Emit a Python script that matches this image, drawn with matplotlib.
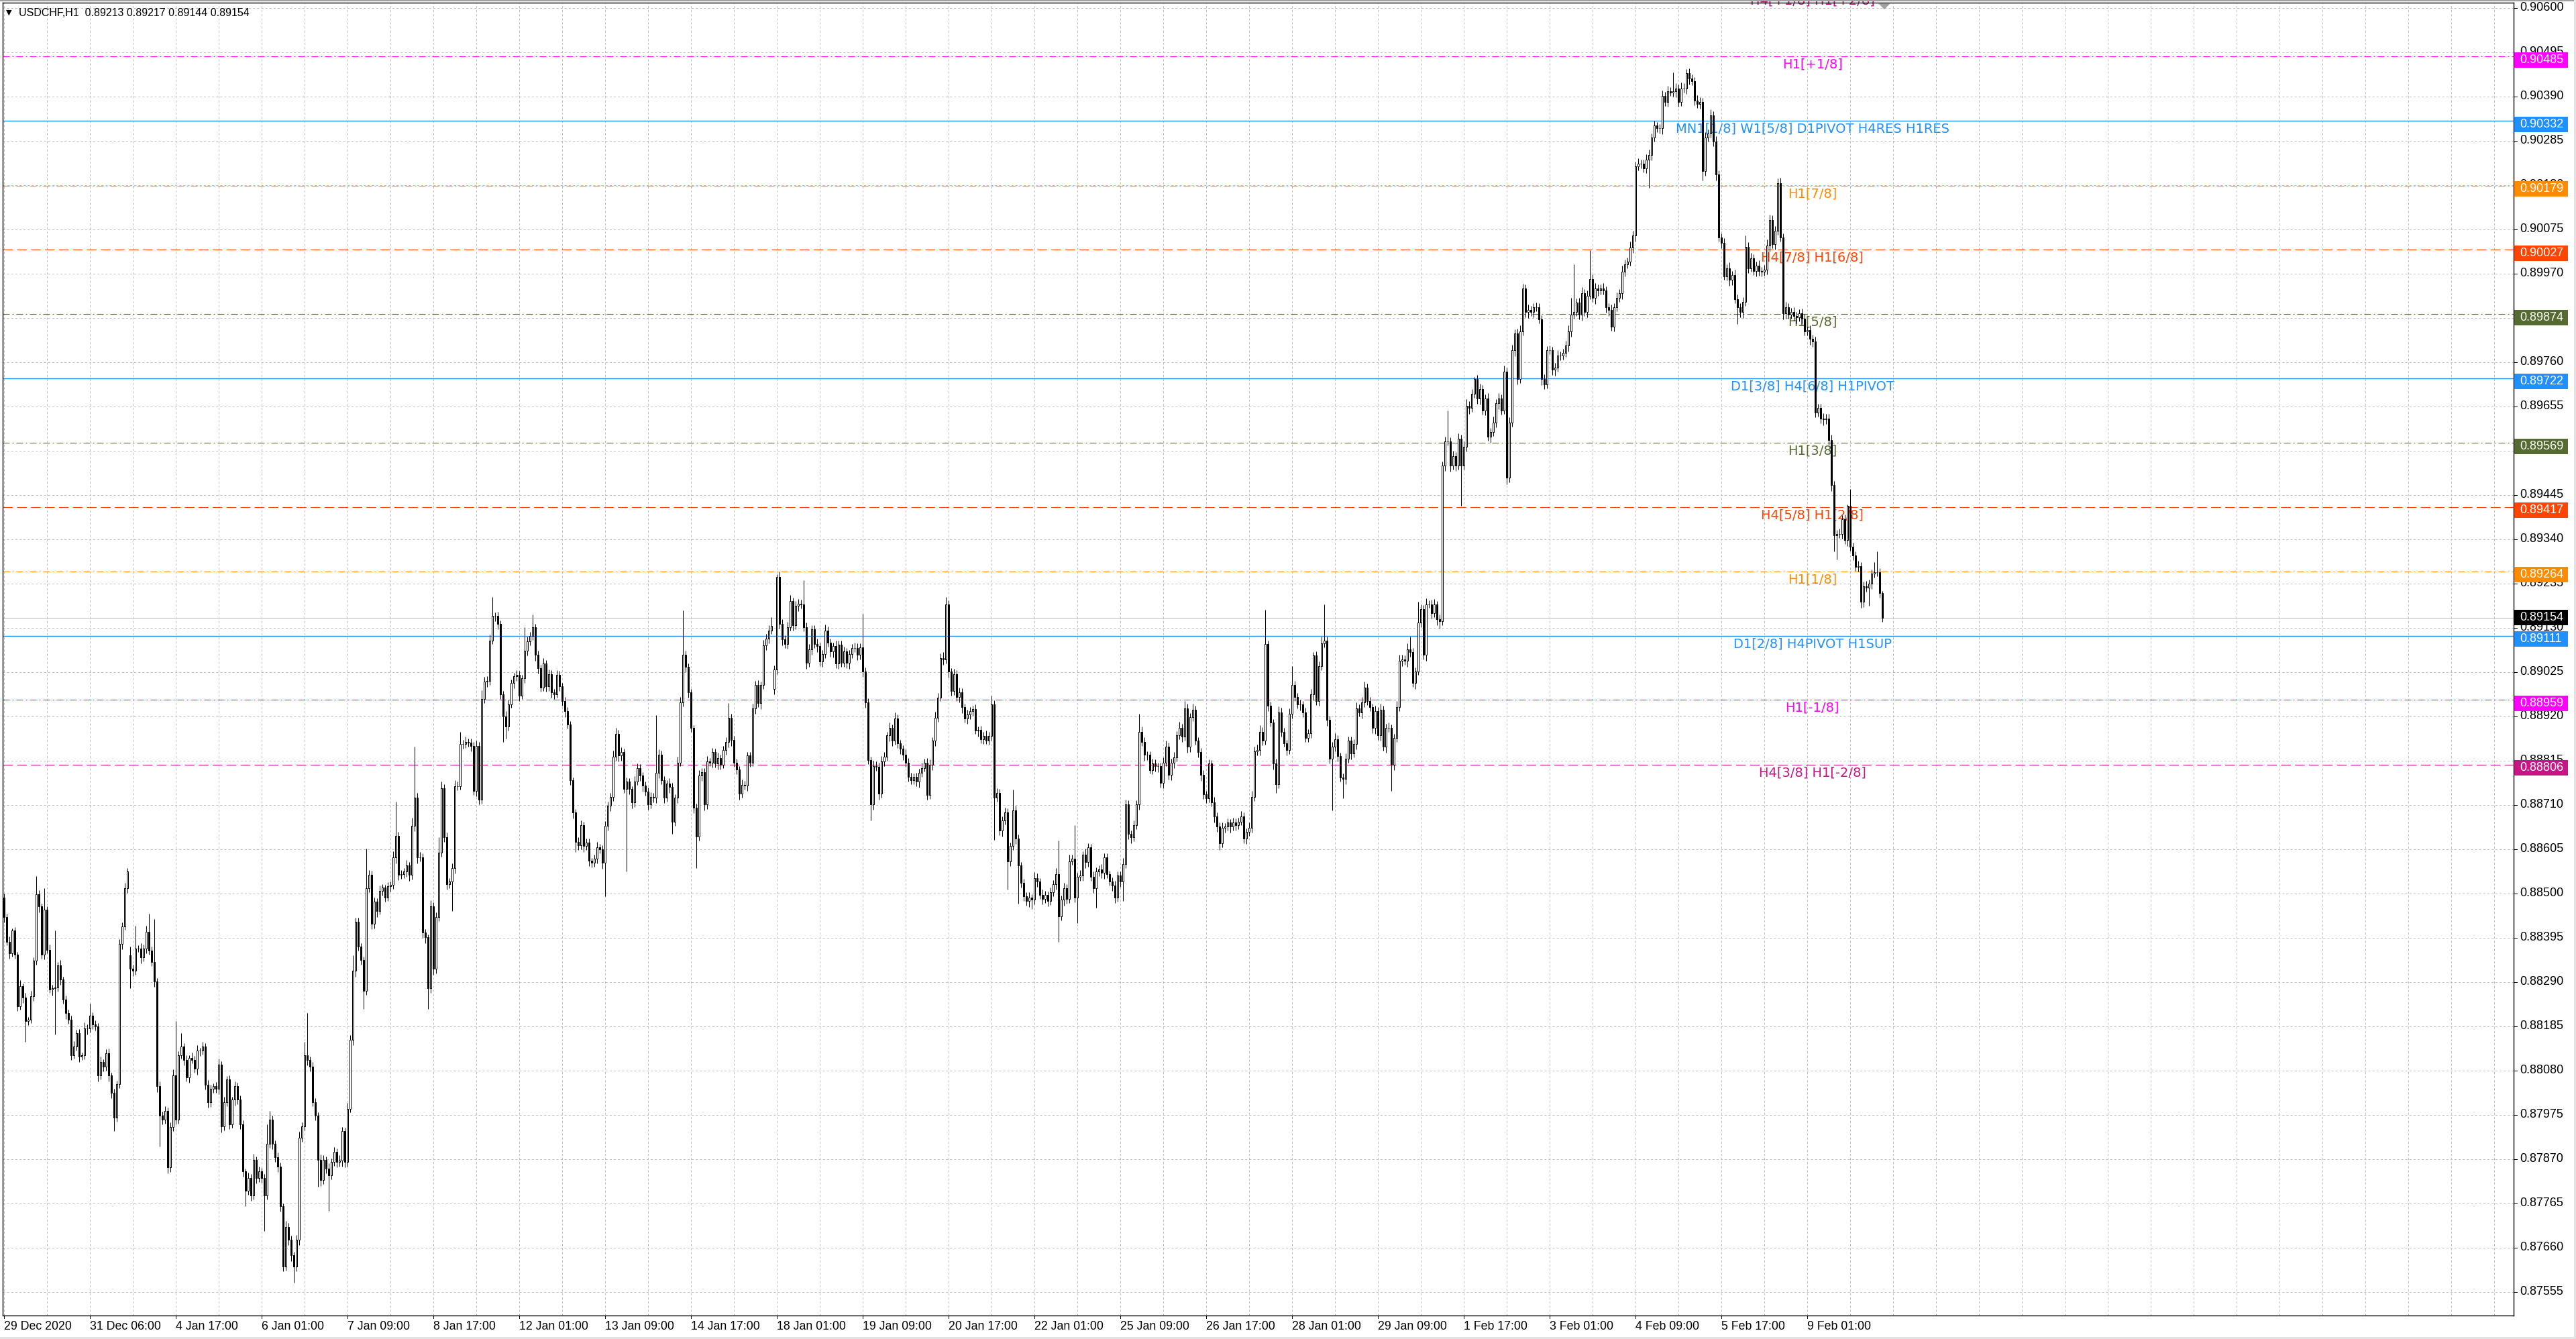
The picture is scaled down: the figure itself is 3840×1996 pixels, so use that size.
import numpy as np
import matplotlib.pyplot as plt
from matplotlib.patches import Rectangle, Polygon
from matplotlib.transforms import blended_transform_factory, ScaledTranslation

plt.rcParams['lines.scale_dashes'] = False

# hourly USDCHF bars, prices in points (1e-5)
close = [
    88444, 88386, 88359, 88412, 88356, 88233, 88280, 88254, 88198, 88201, 88257, 88341, 88498, 88470, 88356, 88462, 88367, 88272, 88275, 88278,
    88330, 88296, 88248, 88217, 88201, 88117, 88138, 88169, 88113, 88117, 88180, 88180, 88211, 88190, 88185, 88069, 88101, 88090, 88122, 88069,
    88027, 87969, 88048, 88380, 88422, 88512, 88552, 88322, 88317, 88370, 88370, 88349, 88370, 88409, 88364, 88338, 88291, 88043, 87974, 87964,
    87985, 87851, 87946, 88069, 87964, 88117, 88138, 88106, 88064, 88111, 88106, 88085, 88127, 88127, 88138, 88046, 88006, 88037, 88043, 88037,
    88095, 87948, 88006, 88059, 87953, 88011, 88043, 88011, 87953, 87842, 87795, 87826, 87784, 87869, 87826, 87842, 87826, 87784, 87906, 87964,
    87906, 87874, 87853, 87758, 87615, 87710, 87679, 87642, 87615, 87679, 87921, 87948, 88117, 88106, 88090, 88006, 87974, 87869, 87821, 87869,
    87848, 87832, 87863, 87888, 87863, 87867, 87937, 87863, 87990, 88153, 88317, 88433, 88375, 88343, 88270, 88512, 88544, 88428, 88481, 88459,
    88507, 88514, 88491, 88517, 88521, 88586, 88637, 88544, 88546, 88552, 88567, 88544, 88660, 88728, 88586, 88586, 88407, 88396, 88275, 88470,
    88322, 88444, 88597, 88750, 88634, 88523, 88528, 88560, 88755, 88755, 88855, 88855, 88860, 88858, 88850, 88744, 88850, 88723, 88961, 89002,
    89005, 89100, 89158, 89158, 89140, 88973, 88920, 88896, 88949, 88999, 89015, 89018, 88970, 89010, 89076, 89098, 89111, 89132, 89066, 89034,
    88989, 89046, 88991, 89021, 88978, 88973, 89018, 88991, 88957, 88933, 88901, 88769, 88692, 88623, 88615, 88662, 88613, 88621, 88578, 88573,
    88583, 88610, 88605, 88573, 88660, 88708, 88729, 88825, 88878, 88827, 88835, 88748, 88766, 88748, 88716, 88766, 88798, 88780, 88756, 88742,
    88711, 88729, 88727, 88787, 88830, 88769, 88727, 88761, 88753, 88671, 88727, 88811, 88954, 89066, 89037, 88978, 88893, 88703, 88636, 88780,
    88788, 88711, 88814, 88811, 88835, 88809, 88822, 88806, 88840, 88859, 88917, 88864, 88811, 88795, 88737, 88758, 88756, 88827, 88811, 88939,
    88994, 88952, 88994, 89088, 89105, 89124, 89135, 89031, 89251, 89140, 89103, 89092, 89132, 89193, 89137, 89182, 89188, 89185, 89132, 89047,
    89079, 89127, 89092, 89087, 89050, 89068, 89124, 89095, 89074, 89087, 89045, 89090, 89047, 89074, 89047, 89068, 89082, 89083, 89066, 89084,
    89026, 88954, 88817, 88711, 88803, 88801, 88737, 88814, 88825, 88875, 88893, 88862, 88915, 88856, 88843, 88830, 88811, 88777, 88769, 88777,
    88766, 88787, 88798, 88811, 88734, 88806, 88862, 88917, 88965, 89058, 89055, 89185, 89026, 88981, 89021, 88966, 88978, 88942, 88915, 88924,
    88933, 88937, 88887, 88888, 88866, 88874, 88863, 88874, 88949, 88728, 88738, 88650, 88674, 88692, 88577, 88613, 88698, 88631, 88567, 88525,
    88494, 88482, 88491, 88485, 88537, 88528, 88497, 88488, 88497, 88482, 88503, 88522, 88546, 88446, 88485, 88513, 88488, 88577, 88583, 88491,
    88540, 88543, 88592, 88574, 88610, 88540, 88513, 88552, 88558, 88549, 88586, 88546, 88528, 88519, 88491, 88543, 88528, 88570, 88711, 88641,
    88634, 88662, 88711, 88884, 88860, 88829, 88829, 88793, 88808, 88802, 88802, 88762, 88811, 88848, 88781, 88811, 88823, 88875, 88893, 88872,
    88939, 88848, 88918, 88936, 88863, 88835, 88781, 88735, 88726, 88808, 88717, 88683, 88659, 88619, 88656, 88659, 88668, 88659, 88668, 88662,
    88671, 88683, 88631, 88647, 88656, 88729, 88838, 88841, 88884, 88863, 89091, 88945, 88905, 88808, 88759, 88930, 88884, 88857, 88841, 88927,
    88994, 88966, 88948, 88948, 88930, 88869, 88881, 88972, 89064, 88957, 89039, 89094, 89100, 88912, 88820, 88848, 88866, 88826, 88775, 88772,
    88820, 88863, 88832, 88854, 88939, 88930, 88954, 88988, 88957, 88942, 88893, 88933, 88875, 88936, 88848, 88893, 88893, 88805, 88869, 88942,
    89052, 89055, 89052, 89079, 89073, 89000, 89027, 89143, 89174, 89066, 89186, 89186, 89165, 89186, 89151, 89146, 89515, 89572, 89572, 89515,
    89538, 89515, 89578, 89515, 89560, 89657, 89651, 89685, 89720, 89674, 89697, 89646, 89674, 89583, 89595, 89617, 89663, 89674, 89646, 89737,
    89487, 89617, 89788, 89828, 89720, 89833, 89935, 89879, 89884, 89879, 89890, 89890, 89862, 89720, 89708, 89788, 89788, 89742, 89748, 89776,
    89776, 89782, 89799, 89833, 89873, 89879, 89901, 89873, 89924, 89879, 89918, 89958, 89913, 89935, 89930, 89935, 89930, 89890, 89884, 89845,
    89890, 89913, 89924, 89975, 89992, 89998, 90032, 90060, 90225, 90231, 90231, 90219, 90241, 90251, 90293, 90321, 90315, 90315, 90391, 90378,
    90403, 90400, 90403, 90409, 90378, 90409, 90409, 90445, 90433, 90427, 90381, 90372, 90378, 90214, 90293, 90302, 90345, 90284, 90205, 90056,
    90043, 89964, 89983, 89955, 89967, 89910, 89891, 89879, 89903, 90034, 89983, 90007, 89977, 89989, 89977, 89974, 89980, 90037, 90098, 90040,
    90071, 90184, 90056, 89876, 89891, 89873, 89879, 89870, 89867, 89876, 89864, 89833, 89836, 89815, 89809, 89640, 89652, 89627, 89624, 89627,
    89576, 89469, 89350, 89353, 89353, 89387, 89338, 89420, 89323, 89302, 89274, 89277, 89192, 89229, 89226, 89235, 89259, 89262, 89262, 89213,
    89154,
]

# upper / lower wick length above/below the body, points
up_wick = [
    10, 8, 12, 6, 9, 5, 14, 7, 10, 6, 12, 8, 43, 10, 6, 50, 8, 12, 9, 134,
    8, 12, 6, 10, 7, 9, 12, 8, 10, 6, 14, 9, 28, 7, 10, 8, 12, 6, 9, 11,
    7, 10, 8, 12, 9, 14, 8, 21, 10, 53, 8, 12, 9, 15, 43, 10, 102, 8, 12, 9,
    10, 7, 12, 14, 129, 9, 31, 8, 10, 6, 12, 9, 14, 7, 10, 8, 12, 9, 6, 10,
    14, 8, 12, 9, 10, 7, 12, 8, 10, 9, 6, 12, 9, 14, 8, 10, 7, 9, 47, 21,
    10, 8, 12, 9, 7, 14, 9, 10, 8, 12, 15, 10, 31, 100, 8, 10, 9, 7, 12, 10,
    8, 12, 9, 10, 7, 12, 10, 8, 14, 12, 37, 10, 9, 8, 7, 95, 12, 10, 9, 8,
    12, 9, 7, 10, 8, 14, 81, 10, 9, 8, 12, 7, 20, 120, 10, 12, 9, 8, 7, 14,
    10, 12, 37, 15, 9, 10, 8, 12, 14, 10, 29, 9, 12, 8, 10, 9, 12, 10, 21, 12,
    10, 14, 45, 9, 10, 8, 7, 12, 10, 9, 8, 12, 10, 9, 56, 12, 10, 30, 8, 10,
    9, 12, 8, 10, 9, 7, 12, 10, 8, 9, 10, 8, 7, 9, 10, 12, 8, 9, 10, 7,
    9, 12, 8, 10, 12, 10, 9, 14, 15, 10, 12, 9, 10, 8, 7, 12, 10, 9, 8, 10,
    9, 12, 10, 136, 12, 9, 10, 8, 12, 10, 9, 14, 12, 106, 10, 9, 8, 7, 10, 12,
    10, 9, 12, 8, 10, 9, 12, 8, 10, 12, 35, 9, 10, 8, 7, 12, 10, 9, 8, 12,
    10, 12, 9, 14, 10, 12, 20, 10, 7, 12, 10, 9, 12, 15, 9, 12, 10, 9, 58, 10,
    12, 9, 10, 12, 8, 10, 14, 9, 10, 8, 12, 10, 9, 12, 8, 10, 9, 12, 10, 9,
    80, 10, 9, 8, 12, 10, 9, 12, 10, 9, 12, 8, 14, 10, 9, 8, 12, 10, 9, 8,
    10, 9, 12, 8, 10, 12, 9, 14, 10, 12, 15, 18, 10, 9, 12, 8, 10, 9, 8, 12,
    10, 9, 12, 8, 10, 9, 12, 10, 20, 9, 12, 10, 9, 12, 10, 8, 49, 10, 9, 8,
    10, 9, 12, 8, 14, 10, 9, 12, 10, 8, 12, 10, 14, 79, 10, 12, 9, 15, 10, 79,
    10, 12, 9, 14, 10, 8, 12, 10, 9, 12, 10, 9, 8, 10, 12, 9, 10, 14, 12, 10,
    9, 12, 10, 43, 12, 10, 9, 8, 12, 10, 9, 8, 12, 14, 10, 9, 12, 10, 14, 9,
    18, 12, 10, 14, 9, 8, 10, 12, 9, 10, 8, 12, 9, 10, 12, 8, 10, 9, 12, 10,
    9, 12, 10, 8, 12, 14, 10, 12, 15, 10, 82, 9, 10, 8, 12, 14, 10, 9, 8, 12,
    45, 10, 9, 12, 8, 10, 9, 14, 9, 10, 12, 15, 86, 10, 9, 12, 14, 10, 8, 9,
    12, 10, 9, 12, 14, 10, 12, 15, 10, 9, 8, 12, 10, 14, 9, 10, 12, 8, 10, 14,
    15, 12, 10, 14, 30, 10, 9, 49, 12, 10, 14, 9, 10, 12, 8, 10, 10, 12, 74, 10,
    12, 9, 14, 10, 12, 15, 10, 12, 5, 10, 12, 9, 10, 12, 9, 14, 10, 12, 10, 15,
    10, 12, 14, 10, 12, 14, 11, 10, 12, 9, 10, 12, 10, 9, 12, 10, 12, 9, 10, 12,
    9, 10, 12, 14, 40, 113, 10, 12, 14, 10, 12, 68, 10, 12, 9, 10, 12, 9, 10, 12,
    10, 12, 9, 14, 12, 10, 14, 12, 10, 12, 9, 10, 12, 14, 10, 12, 9, 10, 14, 10,
    12, 10, 44, 12, 10, 14, 12, 10, 12, 10, 9, 12, 10, 9, 12, 10, 14, 10, 12, 10,
    9, 12, 10, 14, 9, 12, 10, 9, 12, 26, 10, 12, 9, 10, 12, 9, 10, 14, 12, 10,
    12, 12, 14, 10, 12, 9, 10, 12, 9, 10, 12, 10, 9, 12, 10, 12, 10, 9, 12, 10,
    10, 12, 9, 10, 12, 10, 12, 2, 40, 9, 10, 12, 9, 10, 12, 9, 10, 24, 50, 10,
    4,
]

dn_wick = [
    12, 9, 14, 8, 10, 12, 9, 14, 50, 10, 8, 12, 9, 14, 10, 12, 9, 8, 14, 109,
    10, 12, 9, 14, 10, 12, 9, 10, 12, 8, 10, 14, 9, 12, 10, 14, 9, 12, 10, 14,
    12, 32, 10, 9, 12, 8, 10, 47, 12, 10, 9, 14, 10, 12, 9, 10, 12, 14, 74, 12,
    10, 14, 12, 9, 12, 10, 9, 14, 10, 12, 9, 10, 14, 12, 9, 10, 14, 12, 9, 10,
    12, 14, 9, 10, 12, 9, 14, 10, 12, 14, 37, 10, 12, 9, 14, 10, 12, 84, 10, 9,
    12, 10, 14, 12, 10, 9, 12, 14, 37, 10, 12, 9, 10, 14, 12, 10, 12, 64, 14, 10,
    12, 85, 10, 9, 12, 10, 14, 12, 10, 9, 12, 14, 10, 12, 43, 10, 9, 12, 10, 14,
    9, 12, 10, 9, 12, 10, 14, 12, 9, 10, 12, 14, 10, 12, 14, 10, 12, 14, 48, 10,
    14, 12, 10, 9, 12, 14, 10, 69, 12, 10, 9, 12, 10, 9, 12, 10, 14, 12, 10, 9,
    12, 10, 9, 12, 14, 12, 61, 29, 10, 9, 12, 10, 14, 9, 10, 12, 9, 10, 14, 12,
    10, 9, 12, 10, 14, 12, 9, 10, 12, 14, 10, 12, 14, 24, 12, 10, 14, 9, 12, 11,
    10, 12, 9, 14, 80, 10, 12, 9, 10, 14, 12, 10, 196, 12, 14, 10, 9, 12, 14, 10,
    12, 9, 10, 12, 14, 10, 12, 9, 14, 29, 10, 12, 9, 10, 12, 14, 10, 12, 76, 10,
    12, 14, 10, 9, 12, 10, 14, 12, 9, 10, 12, 14, 10, 12, 14, 10, 9, 12, 10, 9,
    12, 10, 14, 9, 10, 12, 9, 14, 10, 12, 15, 10, 12, 9, 14, 10, 12, 9, 10, 14,
    10, 12, 9, 14, 10, 12, 9, 10, 12, 14, 10, 12, 9, 10, 12, 14, 10, 9, 12, 10,
    12, 14, 10, 37, 12, 10, 14, 9, 12, 10, 14, 12, 9, 10, 12, 14, 10, 12, 9, 10,
    12, 14, 10, 9, 12, 10, 14, 12, 10, 9, 12, 10, 14, 12, 10, 9, 12, 14, 10, 12,
    10, 12, 9, 14, 10, 12, 9, 10, 12, 100, 10, 12, 14, 10, 67, 12, 10, 14, 91, 10,
    12, 10, 14, 21, 10, 12, 9, 14, 10, 12, 9, 10, 12, 61, 10, 14, 12, 10, 9, 12,
    61, 10, 12, 14, 10, 9, 12, 46, 10, 12, 14, 10, 9, 12, 14, 10, 12, 46, 10, 12,
    14, 10, 9, 12, 10, 14, 12, 9, 10, 12, 14, 10, 12, 9, 10, 12, 14, 10, 9, 12,
    10, 14, 12, 9, 10, 12, 14, 10, 12, 9, 10, 14, 12, 15, 10, 12, 9, 14, 10, 12,
    10, 9, 12, 14, 10, 12, 9, 10, 14, 12, 10, 12, 9, 14, 21, 10, 12, 9, 14, 10,
    12, 10, 9, 14, 12, 10, 9, 12, 14, 10, 12, 9, 10, 14, 12, 122, 10, 12, 9, 46,
    12, 10, 14, 9, 12, 10, 14, 12, 10, 9, 12, 14, 10, 12, 9, 14, 10, 61, 12, 10,
    9, 12, 10, 14, 12, 10, 14, 9, 12, 10, 14, 9, 12, 10, 14, 17, 10, 12, 9, 14,
    10, 12, 9, 96, 10, 12, 14, 9, 10, 12, 14, 10, 12, 9, 14, 10, 12, 14, 10, 9,
    17, 12, 10, 14, 12, 10, 9, 12, 14, 10, 12, 9, 10, 14, 12, 10, 9, 12, 14, 10,
    12, 9, 10, 14, 12, 10, 9, 12, 14, 10, 12, 9, 10, 14, 12, 10, 9, 12, 14, 10,
    12, 9, 10, 14, 12, 10, 9, 12, 14, 10, 12, 9, 10, 68, 12, 10, 9, 12, 14, 10,
    12, 9, 10, 14, 12, 10, 9, 12, 14, 10, 12, 9, 10, 23, 12, 10, 9, 12, 14, 10,
    12, 9, 10, 14, 12, 10, 41, 12, 14, 10, 12, 9, 10, 14, 12, 10, 9, 12, 14, 10,
    12, 9, 10, 14, 12, 10, 9, 12, 14, 10, 12, 9, 10, 14, 12, 10, 9, 12, 14, 10,
    12, 14, 39, 57, 10, 12, 9, 14, 10, 12, 9, 10, 14, 12, 10, 43, 12, 10, 9, 12,
    10,
]

# bars whose open is not the previous close (session gaps)
gap_open = {0: 88490, 47: 88354, 287: 88986}

time_labels = ["29 Dec 2020", "31 Dec 06:00", "4 Jan 17:00", "6 Jan 01:00", "7 Jan 09:00",
               "8 Jan 17:00", "12 Jan 01:00", "13 Jan 09:00", "14 Jan 17:00", "18 Jan 01:00",
               "19 Jan 09:00", "20 Jan 17:00", "22 Jan 01:00", "25 Jan 09:00", "26 Jan 17:00",
               "28 Jan 01:00", "29 Jan 09:00", "1 Feb 17:00", "3 Feb 01:00", "4 Feb 09:00",
               "5 Feb 17:00", "9 Feb 01:00"]

price_ticks = [0.87555, 0.87660, 0.87765, 0.87870, 0.87975, 0.88080, 0.88185, 0.88290, 0.88395, 0.88500,
               0.88605, 0.88710, 0.88815, 0.88920, 0.89025, 0.89130, 0.89235, 0.89340, 0.89445, 0.89550,
               0.89655, 0.89760, 0.89865, 0.89970, 0.90075, 0.90180, 0.90285, 0.90390, 0.90495, 0.90600]

level_prices = [0.90637, 0.90485, 0.90332, 0.90179, 0.90027, 0.89874, 0.89722,
                0.89569, 0.89417, 0.89264, 0.89111, 0.88959, 0.88806]
level_names = ["H4[+1/8] H1[+2/8]", "H1[+1/8]", "MN1[1/8] W1[5/8] D1PIVOT H4RES H1RES",
               "H1[7/8]", "H4[7/8] H1[6/8]", "H1[5/8]", "D1[3/8] H4[6/8] H1PIVOT",
               "H1[3/8]", "H4[5/8] H1[2/8]", "H1[1/8]", "D1[2/8] H4PIVOT H1SUP",
               "H1[-1/8]", "H4[3/8] H1[-2/8]"]
level_colors = ["#C71585", "#FF00FF", "#1E90FF", "#FF8C00", "#FF4500", "#556B2F", "#1E90FF",
                "#556B2F", "#FF4500", "#FF8C00", "#1E90FF", "#FF00FF", "#C71585"]
level_kinds = ["dash", "dashdot", "solid", "dashdot", "dash", "dashdot", "solid",
               "dashdot", "dash", "dashdot", "solid", "dashdot", "dash"]

title = "USDCHF,H1  0.89213 0.89217 0.89144 0.89154"
last_price = 0.89154

# ---- figure layout (pixels of a 3840x1996 canvas) ----
W, H = 3840, 1996
fig = plt.figure(figsize=(W / 100, H / 100), dpi=100)
ax = fig.add_axes([4 / W, 35 / H, 3743 / W, 1957 / H])
ax.set_xlim(-0.56, 935.2)
ax.set_ylim(0.874993, 0.906127)
ax.set_xticks([])
ax.set_yticks([])
for s in ax.spines.values():
    s.set_color('black')
    s.set_linewidth(1.0)

AXW = 3743.0
PXU = 1957.0 / (0.906127 - 0.874993)   # pixels per price unit
def shift(dx, dy):
    return ScaledTranslation(dx / 100, dy / 100, fig.dpi_scale_trans)

ty = blended_transform_factory(ax.transAxes, ax.transData)
tx = blended_transform_factory(ax.transData, ax.transAxes)

grid_kw = dict(color='#C0C0C0', lw=0.72, ls=(0, (2.2, 2.2)), zorder=1)
for p in price_ticks:
    ax.axhline(p, **grid_kw)
for g in range(0, 936, 16):
    ax.axvline(g, **grid_kw)

# right price scale
axis_font = dict(family='Liberation Sans', fontsize=13)
for p in price_ticks:
    ax.plot([1, 1 + 5 / AXW], [p, p], transform=ty, clip_on=False, color='black', lw=0.72)
    ax.text(1, p, f"{p:.5f}", transform=ty + shift(9, 0), va='center', ha='left',
            color='black', clip_on=False, **axis_font)

# time scale
for k, lab in enumerate(time_labels):
    b = 32 * k
    ax.plot([b, b], [0, -4 / 1957], transform=tx, clip_on=False, color='black', lw=0.72)
    ax.text(b, 0, lab, transform=tx + shift(0, -16), va='center', ha='left',
            family='Liberation Sans', fontsize=12.8, color='black', clip_on=False)

# level lines and their labels
dash_styles = {'solid': '-', 'dashdot': (0, (7.2, 2.9, 1.4, 2.9)), 'dash': (0, (10.5, 4.5))}
for p, name, col, kind in zip(level_prices, level_names, level_colors, level_kinds):
    ax.axhline(p, color=col, lw=1.0 if kind == 'solid' else 0.8, ls=dash_styles[kind], zorder=2)
    t = ax.annotate(name, (673.9, p), xytext=(0, -8.6), textcoords='offset points',
                    ha='center', va='center', color=col, fontsize=14, family='DejaVu Sans',
                    annotation_clip=False, zorder=2.5)
    t.set_clip_on(True)
    if ax.get_ylim()[0] < p < ax.get_ylim()[1]:
        ax.add_patch(Rectangle((1, p), 80 / AXW, 23 / PXU, transform=ty + shift(1, -16.5),
                               facecolor=col, edgecolor='none', clip_on=False, zorder=6))
        ax.text(1, p, f"{p:.5f}", transform=ty + shift(9, -5), va='center', ha='left',
                color='white', clip_on=False, zorder=7, **axis_font)

# current price line and label
ax.axhline(last_price, color='#C0C0C0', lw=0.8, zorder=2)
ax.add_patch(Rectangle((1, last_price), 80 / AXW, 23 / PXU, transform=ty + shift(1, -11.5),
                       facecolor='black', edgecolor='none', clip_on=False, zorder=6))
ax.text(1, last_price, f"{last_price:.5f}", transform=ty + shift(9, 0), va='center', ha='left',
        color='white', clip_on=False, zorder=7, **axis_font)

# candles
n = len(close)
c = np.array(close) / 1e5
o = np.array([gap_open[i] if i in gap_open else close[i - 1] for i in range(n)]) / 1e5
hi = np.maximum(o, c) + np.array(up_wick) / 1e5
lo = np.minimum(o, c) - np.array(dn_wick) / 1e5
x = np.arange(n)
ax.vlines(x, lo, hi, color='black', lw=0.75, zorder=4)
bull = c >= o
ax.bar(x, c - o, bottom=o, width=0.6, color=np.where(bull, 'white', 'black'),
       edgecolor='black', linewidth=0.72, zorder=5)

# header text
fig.text(13 / W, 1 - 19 / H, '\u25BC', fontsize=8, ha='center', va='center', family='DejaVu Sans')
fig.text(28 / W, 1 - 20 / H, title, fontsize=11.5, ha='left', va='center', family='Liberation Sans')

# chart shift marker
fig.patches.append(Polygon([(2800 / W, 1 - 5 / H), (2818 / W, 1 - 5 / H), (2809 / W, 1 - 14 / H)],
                           closed=True, transform=fig.transFigure, facecolor='#A0A0A0',
                           edgecolor='none', zorder=8))
# window frame
fig.patches.append(Rectangle((0, 1 - 2 / H), 1, 2 / H, transform=fig.transFigure,
                             facecolor='#A0A0A0', edgecolor='none'))
fig.patches.append(Rectangle((0, 0), 1, 3 / H, transform=fig.transFigure,
                             facecolor='#E3E3E3', edgecolor='none'))
fig.patches.append(Rectangle((1 - 3 / W, 0), 3 / W, 1, transform=fig.transFigure,
                             facecolor='#E3E3E3', edgecolor='none'))

fig.savefig('out.png', dpi=100, facecolor='white')
